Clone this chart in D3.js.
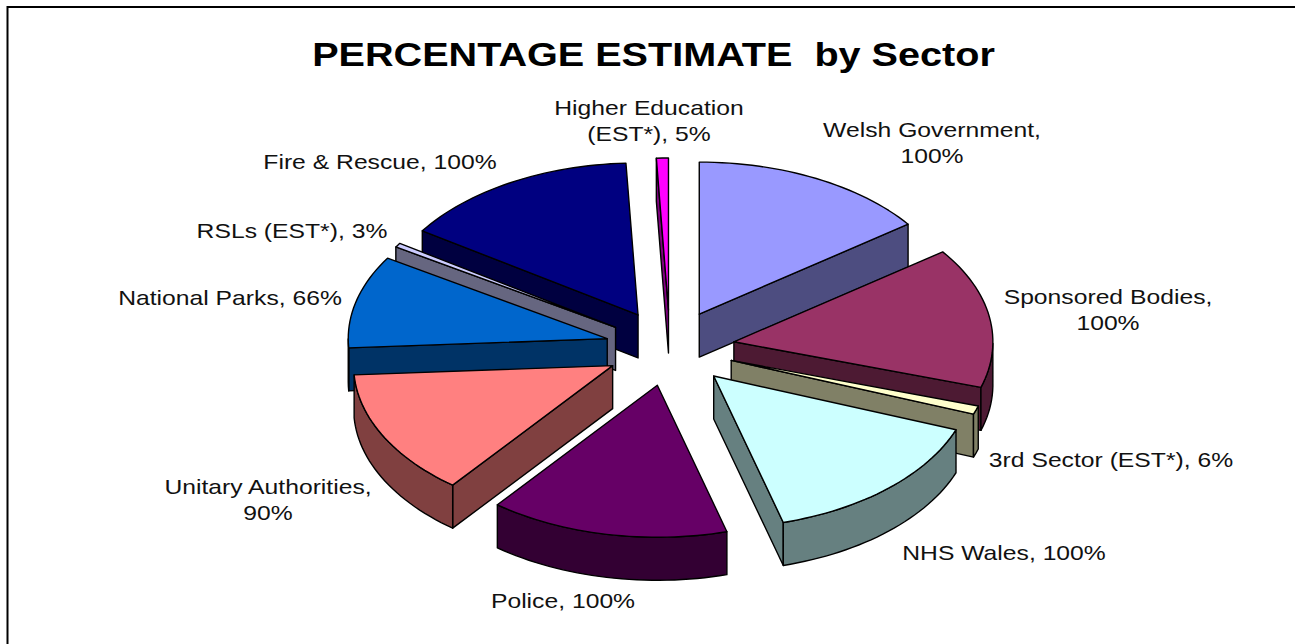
<!DOCTYPE html>
<html lang="en">
<head>
<meta charset="UTF-8">
<title>PERCENTAGE ESTIMATE by Sector</title>
<script src="https://d3js.org/d3.v7.min.js"></script>
<style>
  body { margin: 0; background: #fff; font-family: "Liberation Sans", Arial, sans-serif; }
  svg { display: block; }
  .label { font-size: 20px; fill: #111; text-anchor: middle; }
  .title { font-size: 33px; font-weight: bold; text-anchor: middle; }
</style>
</head>
<body>
<div id="chart"></div>
<script>
// values, clockwise from 12 o'clock
const sectors = ["Welsh Government", "Sponsored Bodies", "3rd Sector (EST*)", "NHS Wales", "Police",
  "Unitary Authorities", "National Parks", "RSLs (EST*)", "Fire & Rescue", "Higher Education (EST*)"];
const percents = [100, 100, 6, 100, 100, 90, 66, 3, 100, 5];
const colours = ["#9999ff", "#993366", "#ffffcc", "#ccffff", "#660066",
  "#ff8080", "#0066cc", "#ccccff", "#000080", "#ff00ff"];
// label text broken into lines, same order as sectors
const labelLines = [
  ["Welsh Government,", "100%"], ["Sponsored Bodies,", "100%"], ["3rd Sector (EST*), 6%"], ["NHS Wales, 100%"],
  ["Police, 100%"], ["Unitary Authorities,", "90%"], ["National Parks, 66%"], ["RSLs (EST*), 3%"],
  ["Fire & Rescue, 100%"], ["Higher Education", "(EST*), 5%"]
];

const width = 1295, height = 644;
const cx = 670, cy = 348, rx = 259, ry = 152, depth = 43, explode = 0.25;
const titleStretch = 1.2, labelStretch = 1.235;   // the original picture is wider than it is tall
// centre of each label's first line
const labelAt = [[932, 137], [1108, 304], [1111, 467], [1004, 560], [563, 608],
  [268, 494], [230, 305], [292, 238], [380, 169], [649, 115]];

const svg = d3.select("#chart").append("svg").attr("width", width).attr("height", height);

// frame
svg.append("path").attr("d", `M7.5,${height}V7H${width}`)
  .attr("fill", "none").attr("stroke", "#000").attr("stroke-width", 2);

svg.append("text").attr("class", "title")
  .attr("transform", `translate(653.5,66) scale(${titleStretch},1)`)
  .attr("xml:space", "preserve").text("PERCENTAGE ESTIMATE  by Sector");

const arcs = d3.pie().sort(null).value(d => d)(percents);

// unit circle -> flattened screen ellipse
const sx = d3.scaleLinear().domain([-1, 1]).range([cx - rx, cx + rx]);
const sy = d3.scaleLinear().domain([-1, 1]).range([cy - ry, cy + ry]);

function project(a, r, mid, drop) {
  return [sx(r * Math.sin(a) + explode * Math.sin(mid)),
          sy(-r * Math.cos(a) - explode * Math.cos(mid)) + drop];
}
const line = d3.line();

function slicePaths(d) {
  const a0 = d.startAngle, a1 = d.endAngle, mid = (a0 + a1) / 2;
  const steps = Math.max(2, Math.ceil((a1 - a0) / 0.03));
  const angles = d3.range(steps + 1).map(i => a0 + (a1 - a0) * i / steps);
  const apex = project(0, 0, mid, 0), apexLow = project(0, 0, mid, depth);
  const top = [apex].concat(angles.map(a => project(a, 1, mid, 0)));
  const walls = [];
  // a cut face only shows when it points down the screen
  if (Math.sin(a0) < 0) walls.push([apex, project(a0, 1, mid, 0), project(a0, 1, mid, depth), apexLow]);
  if (Math.sin(a1) > 0) walls.push([apex, project(a1, 1, mid, 0), project(a1, 1, mid, depth), apexLow]);
  const front = angles.filter(a => Math.cos(a) < 0);
  if (front.length > 1) {
    walls.push(front.map(a => project(a, 1, mid, 0))
      .concat(front.slice().reverse().map(a => project(a, 1, mid, depth))));
  }
  return { top, walls, mid };
}

const slices = arcs.map((d, i) => Object.assign(slicePaths(d), { colour: colours[i], name: sectors[i] }))
  .sort((a, b) => Math.cos(b.mid) - Math.cos(a.mid));   // back ones first

const g = svg.selectAll("g.slice").data(slices).enter().append("g").attr("class", "slice");
g.selectAll("path.wall").data(d => d.walls.map(w => ({ w, c: d.colour }))).enter().append("path")
  .attr("class", "wall")
  .attr("d", d => line(d.w) + "Z")
  .attr("fill", d => d3.interpolateRgb(d.c, "#000")(0.5))
  .attr("stroke", "#000").attr("stroke-width", 1.4).attr("stroke-linejoin", "round");
g.append("path").attr("d", d => line(d.top) + "Z")
  .attr("fill", d => d.colour)
  .attr("stroke", "#000").attr("stroke-width", 1.4).attr("stroke-linejoin", "round");

// data labels
const labels = svg.selectAll("text.label").data(labelLines).enter().append("text")
  .attr("class", "label")
  .attr("transform", (d, i) => `translate(${labelAt[i][0]},${labelAt[i][1]}) scale(${labelStretch},1)`);
labels.selectAll("tspan").data(d => d).enter().append("tspan")
  .attr("x", 0)
  .attr("dy", (d, i) => i ? 26 : 0)
  .text(d => d);
</script>
</body>
</html>
